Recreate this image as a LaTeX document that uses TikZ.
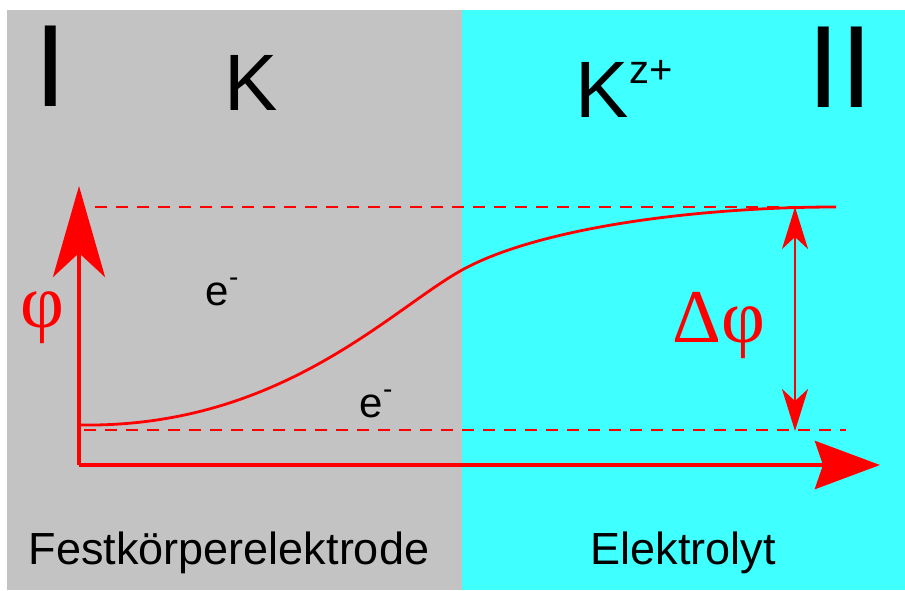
\documentclass[tikz,border=0pt]{standalone}
\usepackage{fontspec}
\setmainfont{Liberation Sans}
\newfontfamily\grkfont{Liberation Serif}
\usetikzlibrary{arrows.meta}
\definecolor{ElGray}{RGB}{195,195,195}
\definecolor{ElCyan}{RGB}{64,255,255}
\newcommand{\fs}[1]{\fontsize{#1}{#1}\selectfont}

\begin{document}
\begin{tikzpicture}[x=1pt,y=-1pt,
  lbl/.style={inner sep=0pt,outer sep=0pt,anchor=center},
  rom/.style={lbl,font=\fs{117}},
  big/.style={lbl,font=\fs{80}},
  el/.style={lbl,font=\fs{42}},
  bot/.style={lbl,font=\fs{45}},
  grk/.style={lbl,text=red,font=\grkfont\fs{76}},
  axis/.style={draw=red,line width=4.5pt},
  lvl/.style={draw=red,line width=2.8pt,dash pattern=on 12pt off 9pt},
  every path/.style={line join=miter}]

\useasboundingbox (0,0) rectangle (905,591);

% ===== two phases =====
\fill[ElGray] (7,10) rectangle (462,590);
\fill[ElCyan] (462,10) rectangle (905,590);

% ===== labels =====
\node[rom] (I) at (51,66) {I};
\node[rom] (II) at (840,67) {II};
\node[big] (K) at (251,83) {K};
\node[big] (Kz) at (624,89) {K\raisebox{0.42em}{\fs{40}z+}};
\node[el] (e1) at (222,292) {e\raisebox{0.45em}{\fs{28}-}};
\node[el] (e2) at (376,404) {e\raisebox{0.45em}{\fs{28}-}};
\node[grk] (phi) at (42,318) {φ};
\node[grk] (dphi) at (719,326) {Δφ};
\node[bot] (fest) at (229,553) {Festkörperelektrode};
\node[bot] (elyt) at (683,553) {Elektrolyt};

% ===== axes =====
\coordinate (O) at (79,465);
\coordinate (ytip) at (79,186);
\coordinate (xtip) at (880,465);
\draw[axis,-{Stealth[length=91pt,width=52pt,inset=24pt]}] (O) -- (ytip);
\draw[axis,-{Stealth[length=65pt,width=48pt,inset=8pt]}] (O) -- (xtip);

% ===== potential levels =====
\coordinate (hiL) at (95,207);
\coordinate (hiR) at (836,207);
\coordinate (loL) at (84,430);
\coordinate (loR) at (846,430);
\draw[lvl] (hiL) -- (hiR);
\draw[lvl] (loL) -- (loR);

% ===== potential curve =====
\coordinate (c0) at (80,425);
\coordinate (cm) at (462,270);
\draw[red,line width=2.8pt] (c0) .. controls (280,428) and (390,310) .. (cm)
  .. controls (540,227) and (700,207) .. (hiR);

% ===== potential difference =====
\coordinate (dtop) at (795,207);
\coordinate (dbot) at (795,431);
\draw[red,line width=2.6pt,{Stealth[length=42pt,width=26pt,inset=12pt]}-{Stealth[length=42pt,width=26pt,inset=12pt]}] (dtop) -- (dbot);
\end{tikzpicture}
\end{document}
